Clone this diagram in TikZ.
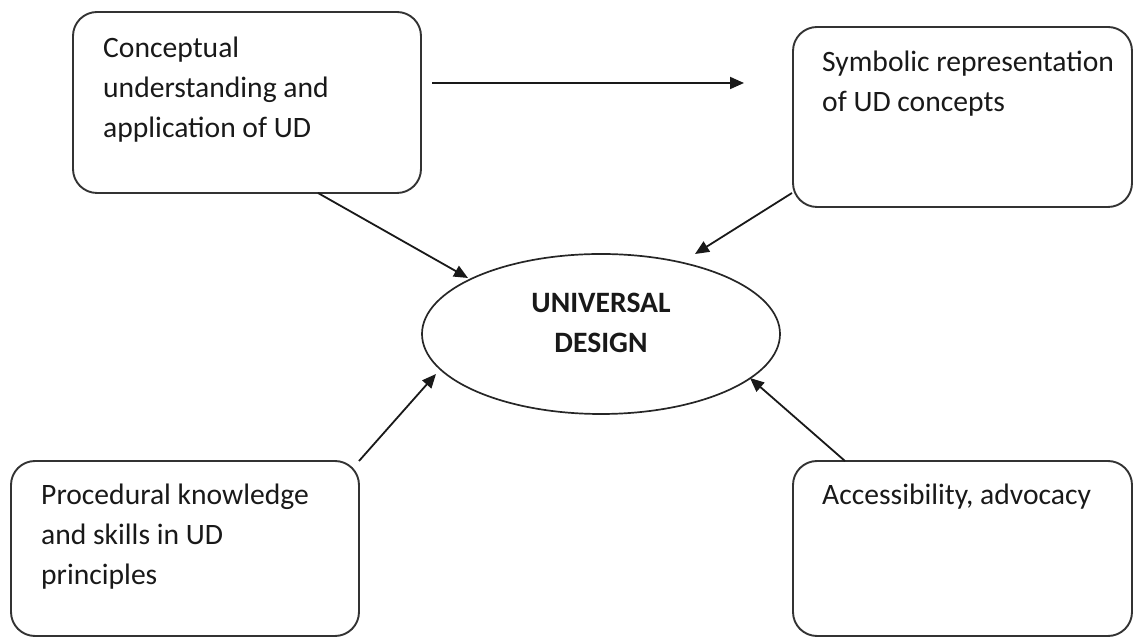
\documentclass[tikz,border=0pt]{standalone}
\usepackage{fontspec}
\setmainfont{Carlito}
\usetikzlibrary{arrows.meta,shapes.geometric}
\begin{document}
\begin{tikzpicture}[x=1pt,y=1pt,
  box/.style={draw=black!80, line width=1.9pt, rounded corners=24pt, inner sep=0pt},
  lbl/.style={anchor=base west, inner sep=0pt, text=black!90, font=\fontsize{29.6}{40}\selectfont},
  arr/.style={draw=black!90, line width=1.8pt, -{Triangle[length=14pt,width=12pt]}}]
\useasboundingbox (0,0) rectangle (1133,637);
% boxes
\node[box, minimum width=348pt, minimum height=181pt] (b1) at (247,534.5) {};
\node[box, minimum width=339pt, minimum height=180pt] (b2) at (962.5,520) {};
\node[box, minimum width=348pt, minimum height=175pt] (b3) at (185,88.5) {};
\node[box, minimum width=339pt, minimum height=175pt] (b4) at (962.5,88.5) {};
% texts
\node[lbl] (t1) at (103,579) {\begin{tabular}[t]{@{}l@{}}Conceptual\\understanding and\\application of UD\end{tabular}};
\node[lbl] (t2) at (822,565) {\begin{tabular}[t]{@{}l@{}}Symbolic representation\\of UD concepts\end{tabular}};
\node[lbl] (t3) at (41,132) {\begin{tabular}[t]{@{}l@{}}Procedural knowledge\\and skills in UD\\principles\end{tabular}};
\node[lbl] (t4) at (822,132) {Accessibility, advocacy};
% ellipse
\node[draw=black!85, line width=1.7pt, ellipse, minimum width=358pt, minimum height=160pt, inner sep=0pt] (ud) at (601,303) {};
\node[anchor=base, inner sep=0pt, text=black!90, font=\fontsize{29.6}{40}\selectfont\bfseries] (udt) at (601,324) {\begin{tabular}[t]{@{}c@{}}UNIVERSAL\\DESIGN\end{tabular}};
% connector ends
\coordinate (h1) at (432,554);
\coordinate (h2) at (744,554);
\coordinate (s1) at (318,444);
\coordinate (e1) at (468,359);
\coordinate (s2) at (792,444);
\coordinate (e2) at (695,383);
\coordinate (s3) at (359,176);
\coordinate (e3) at (436,263);
\coordinate (s4) at (845,176);
\coordinate (e4) at (750,259);
\draw[arr] (h1) -- (h2);
\draw[arr] (s1) -- (e1);
\draw[arr] (s2) -- (e2);
\draw[arr] (s3) -- (e3);
\draw[arr] (s4) -- (e4);
\end{tikzpicture}
\end{document}
